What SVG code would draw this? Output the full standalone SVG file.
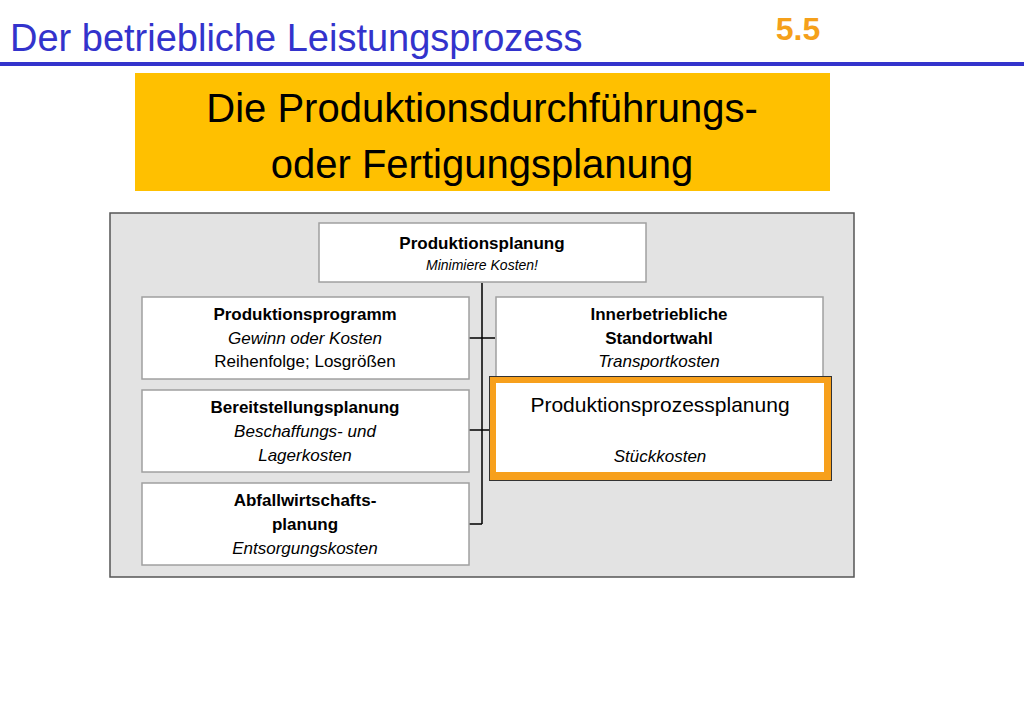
<svg xmlns="http://www.w3.org/2000/svg" width="1024" height="709" viewBox="0 0 1024 709">
<style>
text{font-family:"Liberation Sans",Arial,sans-serif;text-anchor:middle;fill:#000}
.b{font-weight:bold;font-size:17px}
.i{font-style:italic;font-size:17px}
.n{font-size:17px}
.box{fill:#fff;stroke:#a0a0a0;stroke-width:1.5}
.c{stroke:#000;stroke-width:1.5;fill:none}
</style>
<rect width="1024" height="709" fill="#fff"/>
<text x="10" y="51" style="text-anchor:start;font-size:38px;fill:#3333cc">Der betriebliche Leistungsprozess</text>
<text x="798" y="40" style="font-size:32px;font-weight:bold;fill:#f5a01a">5.5</text>
<rect x="0" y="62" width="1024" height="4" fill="#3333cc"/>
<rect x="135" y="73" width="695" height="118" fill="#ffc000"/>
<text x="482" y="122" style="font-size:40px">Die Produktionsdurchführungs-</text>
<text x="482" y="178" style="font-size:40px">oder Fertigungsplanung</text>
<rect x="110" y="213" width="744" height="364" fill="#e3e3e3" stroke="#555" stroke-width="1.5"/>
<g id="connectors">
<path class="c" d="M482 283V524M469 338H495M469 430H495M469 524H482"/>
</g>
<g id="n1"><rect class="box" x="319" y="223" width="327" height="59"/>
<text x="482" y="249" class="b">Produktionsplanung</text>
<text x="482" y="270" class="i" style="font-size:14px">Minimiere Kosten!</text></g>
<g id="n2"><rect class="box" x="142" y="297" width="327" height="82"/>
<text x="305" y="320" class="b">Produktionsprogramm</text>
<text x="305" y="344" class="i">Gewinn oder Kosten</text>
<text x="305" y="367" class="n">Reihenfolge; Losgrößen</text></g>
<g id="n3"><rect class="box" x="496" y="297" width="327" height="82"/>
<text x="659" y="320" class="b">Innerbetriebliche</text>
<text x="659" y="344" class="b">Standortwahl</text>
<text x="659" y="367" class="i">Transportkosten</text></g>
<g id="n4"><rect class="box" x="142" y="390" width="327" height="82"/>
<text x="305" y="413" class="b">Bereitstellungsplanung</text>
<text x="305" y="437" class="i">Beschaffungs- und</text>
<text x="305" y="461" class="i">Lagerkosten</text></g>
<g id="n5"><rect class="box" x="142" y="483" width="327" height="82"/>
<text x="305" y="506" class="b">Abfallwirtschafts-</text>
<text x="305" y="530" class="b">planung</text>
<text x="305" y="554" class="i">Entsorgungskosten</text></g>
<g id="n6"><rect x="489.5" y="376.5" width="342" height="104" fill="#f7a01c" stroke="#333" stroke-width="1"/>
<rect x="496" y="383" width="328" height="89" fill="#fff"/>
<text x="660" y="412" style="font-size:21px">Produktionsprozessplanung</text>
<text x="660" y="462" class="i">Stückkosten</text></g>
</svg>
